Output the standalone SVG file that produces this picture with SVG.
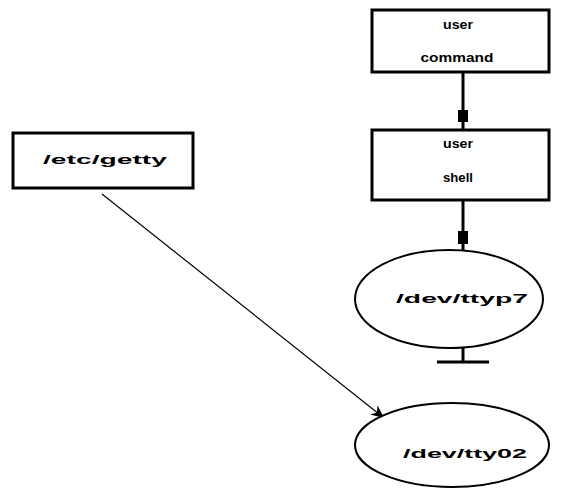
<svg xmlns="http://www.w3.org/2000/svg" width="566" height="499" viewBox="0 0 566 499">
  <style>
    .box { fill: #fff; stroke: #000; stroke-width: 3; }
    .oval { fill: #fff; stroke: #000; stroke-width: 2; }
    .wire { fill: none; stroke: #000; stroke-width: 3; }
    .thin { fill: none; stroke: #000; stroke-width: 1.2; }
    .lbl { font-family: "Liberation Sans", Arial, sans-serif; font-size: 13px; font-weight: bold; fill: #000; text-anchor: middle; }
  </style>
  <defs>
    <marker id="head" markerWidth="14" markerHeight="12" refX="13" refY="6" orient="auto" markerUnits="userSpaceOnUse">
      <path d="M0,0 L13,6 L0,12 L4,6 Z" fill="#000"/>
    </marker>
  </defs>
  <rect width="566" height="499" fill="#fff"/>

  <g id="connectors">
    <!-- command to shell -->
    <line class="wire" x1="463" y1="72" x2="463" y2="130"/>
    <rect x="458" y="110" width="10" height="12" fill="#000"/>
    <!-- shell to tty -->
    <line class="wire" x1="463" y1="200" x2="463" y2="250"/>
    <rect x="458" y="231" width="10" height="13" fill="#000"/>
    <!-- tty terminator -->
    <line class="wire" x1="463" y1="348" x2="463" y2="362"/>
    <line class="wire" x1="437" y1="362" x2="489" y2="362"/>
    <!-- getty to terminal -->
    <line class="thin" x1="102" y1="194" x2="384" y2="418" marker-end="url(#head)"/>
  </g>

  <g id="user-command">
    <rect class="box" x="372" y="10" width="177" height="62"/>
    <text class="lbl" x="458" y="29" textLength="30" lengthAdjust="spacingAndGlyphs">user</text>
    <text class="lbl" x="457" y="62" textLength="73" lengthAdjust="spacingAndGlyphs">command</text>
  </g>

  <g id="user-shell">
    <rect class="box" x="372" y="130" width="177" height="70"/>
    <text class="lbl" x="458" y="148" textLength="30" lengthAdjust="spacingAndGlyphs">user</text>
    <text class="lbl" x="458" y="182" textLength="30" lengthAdjust="spacingAndGlyphs">shell</text>
  </g>

  <g id="etc-getty">
    <rect class="box" x="13" y="133" width="180" height="55"/>
    <text class="lbl" x="105" y="164" textLength="124" lengthAdjust="spacingAndGlyphs">/etc/getty</text>
  </g>

  <g id="dev-ttyp7">
    <ellipse class="oval" cx="449" cy="299" rx="94" ry="49"/>
    <text class="lbl" x="462" y="303" textLength="132" lengthAdjust="spacingAndGlyphs">/dev/ttyp7</text>
  </g>

  <g id="dev-tty02">
    <ellipse class="oval" cx="452" cy="445" rx="97" ry="42"/>
    <text class="lbl" x="465" y="458" textLength="124" lengthAdjust="spacingAndGlyphs">/dev/tty02</text>
  </g>
</svg>
